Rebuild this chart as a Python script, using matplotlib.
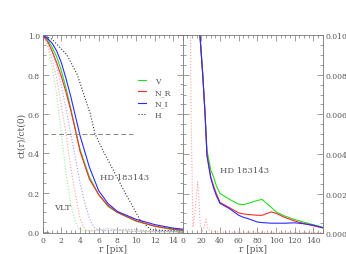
import matplotlib
matplotlib.use('Agg')
import matplotlib.pyplot as plt
from matplotlib.ticker import MultipleLocator

plt.rcParams['font.family'] = ['DejaVu Serif']

# left panel: normalised profiles, r in pix
r_sol = [0, 0.5, 1, 1.5, 2, 2.5, 3, 3.5, 4, 5, 6, 7, 8, 10, 12, 14, 15]
v_sol = [1.0, 0.98, 0.94, 0.89, 0.82, 0.73, 0.63, 0.52, 0.42, 0.28, 0.19, 0.13, 0.10, 0.055, 0.03, 0.012, 0.008]
nr_sol = [1.0, 0.97, 0.92, 0.86, 0.79, 0.71, 0.62, 0.52, 0.41, 0.27, 0.19, 0.135, 0.10, 0.058, 0.03, 0.015, 0.010]
ni_sol = [1.0, 0.985, 0.96, 0.92, 0.86, 0.78, 0.69, 0.59, 0.49, 0.33, 0.21, 0.145, 0.105, 0.065, 0.038, 0.02, 0.015]

r_h = [0, 1, 2, 2.6, 3.7, 5.1, 5.6, 6.5, 7.5, 9, 10.4, 11.5, 12, 15]
h_val = [1.0, 0.98, 0.93, 0.9, 0.8, 0.6, 0.5, 0.41, 0.32, 0.185, 0.065, 0.015, 0.01, 0.005]

# VLT profiles (dotted)
r_vlt_v = [0, 0.5, 1, 1.5, 2, 2.5, 3, 3.5, 4, 5, 6, 7, 8, 9, 10, 12, 15]
vlt_v = [1.0, 0.95, 0.84, 0.7, 0.5, 0.3, 0.14, 0.05, 0.01, 0.005, 0.01, 0.012, 0.008, 0.005, 0.003, 0.002, 0.001]
r_vlt_r = [0, 0.5, 1, 1.5, 2, 2.5, 3, 3.5, 4, 4.5, 5, 6, 7, 8, 9, 10, 12, 15]
vlt_r = [1.0, 0.96, 0.88, 0.78, 0.64, 0.5, 0.33, 0.19, 0.07, 0.015, 0.005, 0.012, 0.018, 0.012, 0.006, 0.003, 0.002, 0.001]
r_vlt_i = [0, 0.5, 1, 1.5, 2, 2.5, 3, 3.5, 4, 4.5, 5, 5.5, 6, 7, 8, 9, 10, 11, 12, 15]
vlt_i = [1.0, 0.975, 0.92, 0.84, 0.74, 0.63, 0.5, 0.38, 0.25, 0.15, 0.07, 0.025, 0.008, 0.006, 0.01, 0.014, 0.013, 0.008, 0.005, 0.002]

# right panel: wings out to 150 pix
r_w = [0, 10, 15, 18.5, 21.5, 24, 26, 30, 33, 36, 40, 50, 60, 65, 70, 80, 85, 95, 100, 110, 120, 130, 140, 150]
v_w = [1.0, 0.05, 0.02, 0.010, 0.008, 0.006, 0.0042, 0.0032, 0.00285, 0.0024, 0.002, 0.00171, 0.00146, 0.00144, 0.0015, 0.00165, 0.0017,
       0.0013, 0.00107, 0.00085, 0.00068, 0.00055, 0.00042, 0.0003]
nr_w = [1.0, 0.05, 0.02, 0.010, 0.008, 0.006, 0.004, 0.00285, 0.0024, 0.002, 0.00155, 0.00129, 0.00102, 0.00097, 0.00094, 0.0009, 0.0009,
        0.00107, 0.001, 0.00078, 0.00061, 0.00048, 0.00037, 0.00027]
ni_w = [1.0, 0.05, 0.02, 0.010, 0.008, 0.006, 0.0039, 0.0028, 0.0023, 0.0019, 0.0015, 0.00124, 0.0009, 0.0008, 0.00073, 0.00056, 0.00053,
        0.0005, 0.0005, 0.0005, 0.00052, 0.00047, 0.0004, 0.00027]
r_wd = [0, 4, 5, 8, 9, 11, 13, 16, 17, 19, 21, 23, 25, 27, 30, 40, 150]
vlt_wd = [1.0, 0.07, 0.03, 0.012, 0.006, 0.0003, 0.001, 0.0026, 0.002, 0.0003, 0.0001, 0.0003, 0.0007, 0.0002, 0.0001, 0.00005, 0.00003]

c_v, c_r, c_i = '#22dd22', '#ff2a2a', '#2a2aff'
p_v, p_r, p_i = '#99ee99', '#ff9f9f', '#9f9fff'
gray = '#555555'

fig = plt.figure(figsize=(3.46, 2.55), dpi=100)
ax1 = fig.add_axes([0.1234, 0.082, 0.4046, 0.776])
ax2 = fig.add_axes([0.528, 0.082, 0.4046, 0.776])

lw = 0.8
ax1.plot(r_vlt_v, vlt_v, color=p_v, ls=':', lw=lw)
ax1.plot(r_vlt_r, vlt_r, color=p_r, ls=':', lw=lw)
ax1.plot(r_vlt_i, vlt_i, color=p_i, ls=':', lw=lw)
ax1.plot(r_h, h_val, color='#333333', ls=':', lw=lw)
ax1.plot(r_sol, v_sol, color=c_v, lw=lw, label='V')
ax1.plot(r_sol, nr_sol, color=c_r, lw=lw, label='N_R')
ax1.plot(r_sol, ni_sol, color=c_i, lw=lw, label='N_I')
ax1.plot([], [], color='#333333', ls=':', lw=lw, label='H')
ax1.plot([0, 9.7], [0.5, 0.5], color='#888888', ls=(0, (5, 3)), lw=0.7)
ax1.set_xlim(0, 15)
ax1.set_ylim(-0.005, 1.0)
ax1.text(6.1, 0.27, 'HD 183143', fontsize=6, color=gray)
ax1.text(1.2, 0.115, 'VLT', fontsize=6, color=gray)
ax1.set_ylabel('ct(r)/ct(0)', fontsize=6.5, color=gray, labelpad=1)
ax1.set_xlabel('r [pix]', fontsize=6.5, color=gray, labelpad=0)
ax1.xaxis.set_major_locator(MultipleLocator(2))
ax1.xaxis.set_minor_locator(MultipleLocator(0.5))
ax1.yaxis.set_major_locator(MultipleLocator(0.2))
ax1.yaxis.set_minor_locator(MultipleLocator(0.05))
leg = ax1.legend(loc='upper left', bbox_to_anchor=(0.655, 0.81), frameon=False, fontsize=5.5,
                 handlelength=1.0, handletextpad=1.2, labelspacing=0.45, borderpad=0)
for t in leg.get_texts():
    t.set_color(gray)

ax2.plot(r_wd, vlt_wd, color=p_r, ls=':', lw=lw)
ax2.plot(r_w, v_w, color=c_v, lw=lw)
ax2.plot(r_w, nr_w, color=c_r, lw=lw)
ax2.plot(r_w, ni_w, color=c_i, lw=lw)
ax2.set_xlim(0, 150)
ax2.set_ylim(0, 0.010)
ax2.text(40, 0.0031, 'HD 183143', fontsize=6, color=gray)
ax2.set_xlabel('r [pix]', fontsize=6.5, color=gray, labelpad=0)
ax2.xaxis.set_major_locator(MultipleLocator(20))
ax2.xaxis.set_minor_locator(MultipleLocator(5))
ax2.yaxis.set_major_locator(MultipleLocator(0.002))
ax2.yaxis.set_minor_locator(MultipleLocator(0.0005))
ax2.yaxis.tick_right()
ax2.yaxis.set_major_formatter(plt.FormatStrFormatter('%.3f'))

for ax in (ax1, ax2):
    for s in ax.spines.values():
        s.set_color('#777777')
        s.set_linewidth(0.6)
    ax.tick_params(which='both', direction='in', top=True, bottom=True, left=True, right=True,
                   colors='#777777', labelcolor=gray, labelsize=5.5, width=0.5, pad=2)
    ax.tick_params(which='major', length=4)
    ax.tick_params(which='minor', length=2)
ax2.tick_params(labelleft=False, labelright=True)
ax1.yaxis.set_major_formatter(plt.FormatStrFormatter('%.1f'))

fig.savefig('out.png', dpi=100)
